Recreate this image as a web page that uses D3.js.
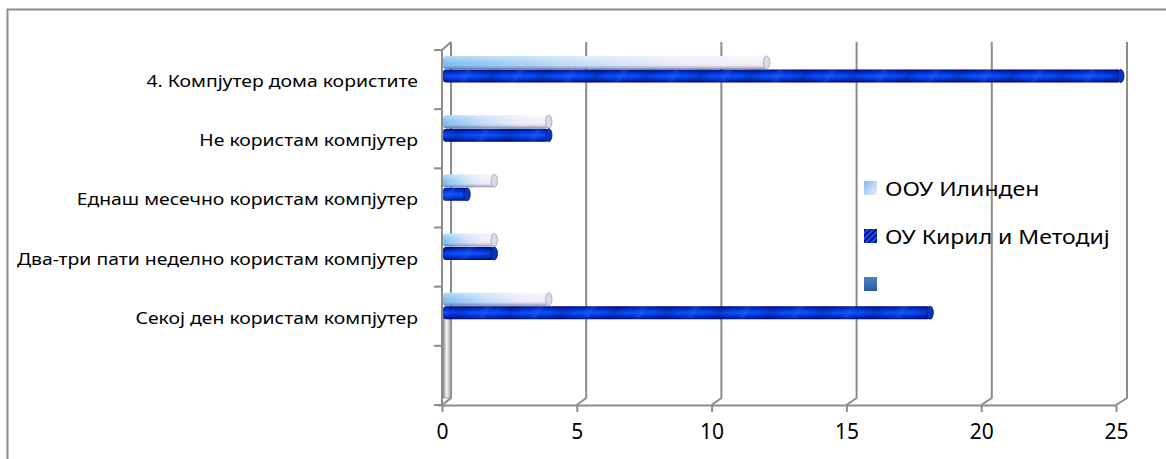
<!DOCTYPE html>
<html>
<head>
<meta charset="utf-8">
<script src="https://cdn.jsdelivr.net/npm/d3@7"></script>
<style>
  html, body { margin: 0; padding: 0; background: #fff; }
  svg { display: block; }
  text { font-family: "Noto Sans", "DejaVu Sans", sans-serif; fill: #000; }
</style>
</head>
<body>
<svg id="chart" width="1166" height="459"></svg>
<script>
// Survey answers, top row first; the last row is an empty category
const categories = [
  "4. Компјутер дома користите",
  "Не користам компјутер",
  "Еднаш месечно користам компјутер",
  "Два-три пати неделно користам компјутер",
  "Секој ден користам компјутер",
  ""
];
const ilindenValues = [12, 4, 2, 2, 4, null];
const kirilValues = [25, 4, 1, 2, 18, null];
const seriesNames = ["ООУ Илинден", "ОУ Кирил и Методиј", ""];
const xTickValues = [0, 5, 10, 15, 20, 25];

const svg = d3.select("#chart");
const defs = svg.append("defs");

// Scales: front plane of the 3D box, back wall, and the bar cylinders in between
const xFront = d3.scaleLinear().domain([0, 25]).range([442, 1116]);
const xBack = d3.scaleLinear().domain([0, 25]).range([451, 1127]);
const xBar = d3.scaleLinear().domain([0, 25]).range([443, 1124]);
const y = d3.scaleBand().domain(d3.range(categories.length)).range([50, 405]);
const floorFront = 405, floorBack = 398, wallTop = 42;
const barH = 13, offIlinden = 6, offKiril = 19.5;
const grid = "#8c8c8c";

// Gradients
function linear(id, x2, y2, stops) {
  const g = defs.append("linearGradient").attr("id", id)
    .attr("x1", 0).attr("y1", 0).attr("x2", x2).attr("y2", y2);
  stops.forEach(([o, c, a]) => g.append("stop").attr("offset", o)
    .attr("stop-color", c).attr("stop-opacity", a == null ? 1 : a));
}
linear("ilH", 1, 0, [[0, "#7cbcf2"], [0.4, "#c4dcf8"], [0.75, "#eeecf8"], [1, "#f8eef6"]]);
linear("ilV", 0, 1, [[0, "#ffffff", 0.45], [0.3, "#ffffff", 0.2], [0.6, "#ffffff", 0], [0.85, "#505a80", 0.25], [1, "#3a4468", 0.55]]);
linear("kiV", 0, 1, [[0, "#000e78"], [0.2, "#002ccc"], [0.5, "#0c52ff"], [0.8, "#002ed0"], [1, "#000a6a"]]);
linear("wallV", 1, 0, [[0, "#8e8e8e"], [0.45, "#f6f6f6"], [1, "#a0a0a0"]]);
linear("legIl", 1, 1, [[0, "#7dbcf2"], [1, "#f4eef8"]]);
linear("legThird", 0, 1, [[0, "#4a82c6"], [1, "#2c5d9e"]]);

// Soft darker patches along the dark-blue cylinders
const pat = defs.append("pattern").attr("id", "kiWave")
  .attr("patternUnits", "userSpaceOnUse").attr("width", 52).attr("height", 14)
  .attr("patternTransform", "skewX(-30)");
linear("waveFill", 1, 0, [[0, "#000a55", 0], [0.3, "#000a55", 0.28], [0.55, "#000a55", 0], [0.8, "#4a88ff", 0.2], [1, "#000a55", 0]]);
pat.append("rect").attr("width", 52).attr("height", 14).attr("fill", "url(#waveFill)");

const stripes = defs.append("pattern").attr("id", "legStripe")
  .attr("patternUnits", "userSpaceOnUse").attr("width", 4).attr("height", 4)
  .attr("patternTransform", "rotate(45)");
stripes.append("rect").attr("width", 4).attr("height", 4).attr("fill", "#1a4cff");
stripes.append("rect").attr("width", 2).attr("height", 4).attr("fill", "#00147a");

// Outer frame
svg.append("path").attr("d", "M7.5,470 L7.5,9.5 L1180,9.5")
  .attr("fill", "none").attr("stroke", grid).attr("stroke-width", 2);

// Back wall gridlines with their slant down to the front floor edge
const gridG = svg.append("g").attr("fill", "none").attr("stroke", grid).attr("stroke-width", 2);
xTickValues.forEach(v => {
  gridG.append("path").attr("d",
    `M${xBack(v)},${wallTop} L${xBack(v)},${floorBack} L${xFront(v)},${floorFront}`);
});

// Left wall: front edge, top slant, category boundary ticks
gridG.append("path").attr("d",
  `M${xFront(0)},${floorFront} L${xFront(0)},${y.range()[0]} L${xBack(0)},${wallTop}`);
const bounds = d3.range(categories.length + 1).map(i => y.range()[0] + i * y.step());
bounds.forEach(b => {
  gridG.append("line").attr("x1", xFront(0) - 8).attr("x2", xFront(0)).attr("y1", b).attr("y2", b);
});

// Side face of the left wall near the floor
svg.append("rect").attr("x", 443).attr("y", 318).attr("width", 8).attr("height", 80)
  .attr("fill", "url(#wallV)").attr("stroke", "#8a8a8a").attr("stroke-width", 0.8);

// Front floor edge with the value axis
const axisG = svg.append("g").attr("transform", `translate(0,${floorFront})`)
  .call(d3.axisBottom(xFront).tickValues(xTickValues).tickSize(7).tickPadding(12).tickSizeOuter(0));
axisG.select(".domain").attr("stroke", grid).attr("stroke-width", 2)
  .attr("d", `M${xFront(0) - 4},0.5H${xFront(25)}`);
axisG.selectAll(".tick line").attr("stroke", grid).attr("stroke-width", 2);
axisG.selectAll(".tick text").attr("font-family", "Noto Sans").attr("font-size", 21)
  .attr("fill", "#000");

// Category labels (drawn slightly wide, as in the original layout)
const labelX = 418, labelStretch = 1.14;
svg.append("g").attr("transform", `translate(${labelX},0) scale(${labelStretch},1)`)
  .selectAll("text").data(categories).join("text")
  .attr("x", 0).attr("y", (d, i) => y(i) + y.bandwidth() / 2 + 1)
  .attr("text-anchor", "end").attr("dominant-baseline", "central")
  .attr("font-size", 17).text(d => d);

// Cylinder bars
function cylinder(g, v, top, kind) {
  if (v == null) return;
  const x0 = xBar(0), x1 = xBar(v), r = barH / 2, cap = 3.2;
  const w = x1 - x0 - cap;
  if (kind === "il") {
    g.append("rect").attr("x", x0).attr("y", top).attr("width", w).attr("height", barH)
      .attr("rx", cap).attr("fill", "url(#ilH)");
    g.append("rect").attr("x", x0).attr("y", top).attr("width", w).attr("height", barH)
      .attr("rx", cap).attr("fill", "url(#ilV)");
    g.append("ellipse").attr("cx", x1 - cap).attr("cy", top + r).attr("rx", cap).attr("ry", r)
      .attr("fill", "#d8dae6").attr("stroke", "#9aa2b8").attr("stroke-width", 0.8);
  } else {
    g.append("rect").attr("x", x0).attr("y", top).attr("width", w).attr("height", barH)
      .attr("rx", cap).attr("fill", "url(#kiV)");
    g.append("rect").attr("x", x0).attr("y", top).attr("width", w).attr("height", barH)
      .attr("rx", cap).attr("fill", "url(#kiWave)");
    g.append("ellipse").attr("cx", x1 - cap).attr("cy", top + r).attr("rx", cap).attr("ry", r)
      .attr("fill", "#0a34c0").attr("stroke", "#001670").attr("stroke-width", 0.8);
  }
}
const barsG = svg.append("g");
categories.forEach((c, i) => {
  cylinder(barsG, ilindenValues[i], y(i) + offIlinden, "il");
  cylinder(barsG, kirilValues[i], y(i) + offKiril, "ki");
});

// Legend
const legendFills = ["url(#legIl)", "url(#legStripe)", "url(#legThird)"];
const leg = svg.append("g").attr("transform", "translate(864,181)");
seriesNames.forEach((name, i) => {
  const row = leg.append("g").attr("transform", `translate(0,${i * 48})`);
  row.append("rect").attr("width", 13).attr("height", 14).attr("fill", legendFills[i]);
  row.append("text").attr("transform", "translate(21,7) scale(1.15,1)")
    .attr("dominant-baseline", "central").attr("font-size", 20).text(name);
});
</script>
</body>
</html>
